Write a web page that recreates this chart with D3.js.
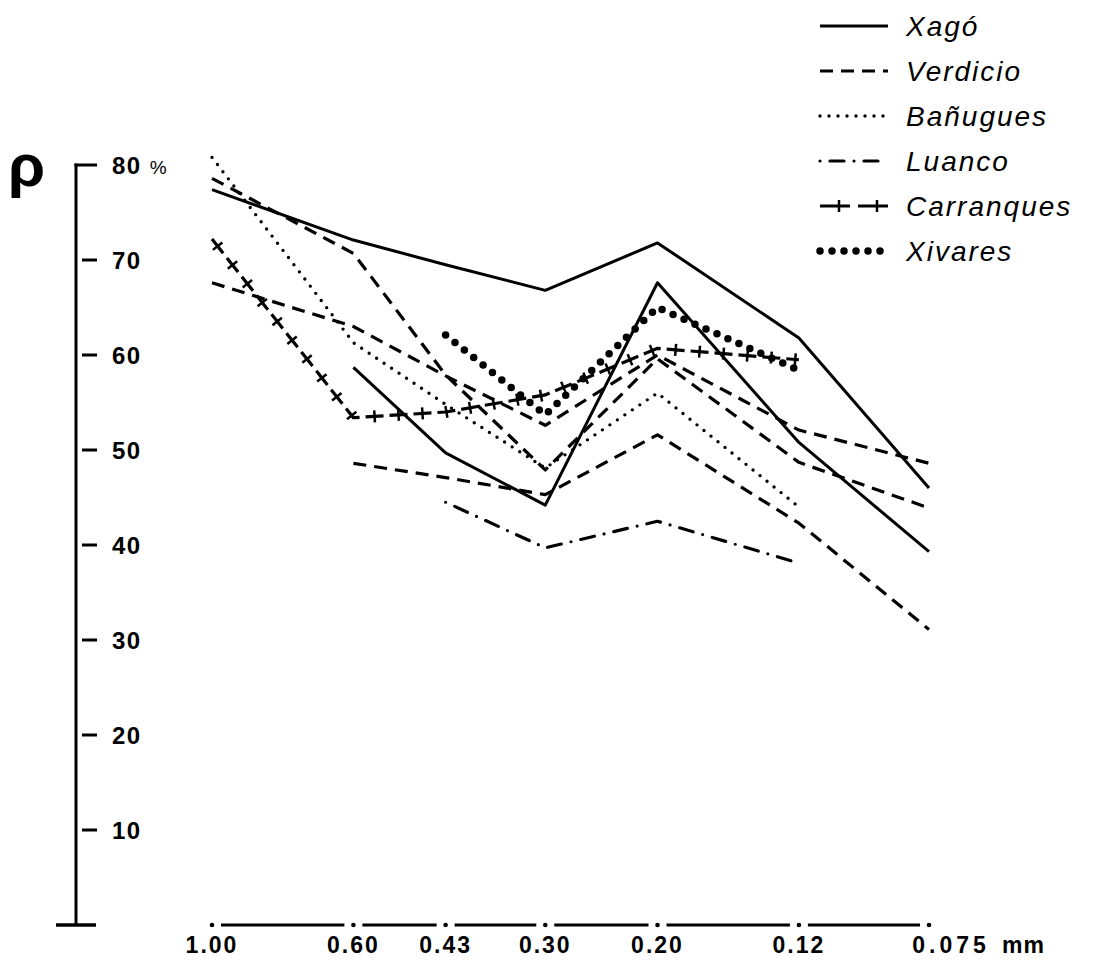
<!DOCTYPE html>
<html><head><meta charset="utf-8"><title>Porcentaje por tamaño de grano</title>
<script src="https://d3js.org/d3.v7.min.js"></script>
<style>
body { margin: 0; background: #fff; }
svg text { font-family: "Liberation Sans", Arial, sans-serif; fill: #000; }
</style>
</head>
<body>
<svg id="chart" width="1093" height="960"></svg>
<script>
// sieve sizes (mm) and their labels
const sizes = [1.00, 0.60, 0.43, 0.30, 0.20, 0.12, 0.075];
const sizeLabels = ["1.00", "0.60", "0.43", "0.30", "0.20", "0.12", "0.075"];
const yTicks = [10, 20, 30, 40, 50, 60, 70, 80];

const sites = ["Xagó", "Verdicio", "Bañugues", "Luanco", "Carranques", "Xivares"];

const xago1      = [77.4, 72.1, 69.5, 66.8, 71.8, 61.8, 46.0];
const xago2      = [null, 58.7, 49.7, 44.2, 67.6, 50.8, 39.3];
const verdicio1  = [78.6, 70.7, 57.9, 47.9, 59.6, 48.7, 43.9];
const verdicio2  = [67.6, 63.0, 57.8, 52.6, 60.0, 52.1, 48.6];
const verdicio3  = [null, 48.6, 47.1, 45.3, 51.6, 42.3, 31.1];
const banugues   = [80.8, 61.3, 54.8, 48.1, 56.0, 44.0, null];
const luanco     = [null, null, 44.5, 39.7, 42.5, 38.1, null];
const carranques = [72.2, 53.4, 54.0, 55.8, 60.7, 59.5, null];
const xivares    = [null, null, 62.1, 53.7, 65.0, 58.4, null];

const samples = [
  {site: "Xagó", values: xago1},
  {site: "Xagó", values: xago2},
  {site: "Verdicio", values: verdicio1},
  {site: "Verdicio", values: verdicio2},
  {site: "Verdicio", values: verdicio3},
  {site: "Bañugues", values: banugues},
  {site: "Luanco", values: luanco},
  {site: "Carranques", values: carranques},
  {site: "Xivares", values: xivares}
];

const styles = {
  "Xagó":       {dash: null, width: 3, cap: "butt"},
  "Verdicio":   {dash: "13 8", width: 3.2, cap: "butt"},
  "Bañugues":   {dash: "0 9", width: 3.4, cap: "round"},
  "Luanco":     {dash: "0 10 14 10", width: 3.2, cap: "round"},
  "Carranques": {dash: "18 6", width: 3.2, cap: "butt", tickStart: 9, tickStep: 24},
  "Xivares":    {dash: "0 12", width: 7.5, cap: "round"}
};
// the legend sample for Carranques uses two longer dashes
const legendOverride = {
  "Carranques": {dash: "30 8 30", width: 3.2, cap: "butt", tickStart: 19, tickStep: 38}
};

const svg = d3.select("#chart");

const x = d3.scaleLog().domain([1, 0.075]).range([212, 929]);
const y = d3.scaleLinear().domain([0, 80]).range([925, 165]);
const axisX = 76;

// little perpendicular bars along the Carranques line
function addCrossTicks(g, pathNode, st) {
  const len = pathNode.getTotalLength();
  for (let s = st.tickStart; s < len - 2; s += st.tickStep) {
    const p = pathNode.getPointAtLength(s);
    const q = pathNode.getPointAtLength(Math.min(s + 1, len));
    const dx = q.x - p.x, dy = q.y - p.y;
    const n = Math.hypot(dx, dy) || 1;
    const nx = -dy / n * 6, ny = dx / n * 6;
    g.append("line")
      .attr("x1", p.x - nx).attr("y1", p.y - ny)
      .attr("x2", p.x + nx).attr("y2", p.y + ny)
      .attr("stroke", "#000")
      .attr("stroke-width", 2.5);
  }
}

function styledPath(g, d, st) {
  const p = g.append("path")
    .attr("d", d)
    .attr("fill", "none")
    .attr("stroke", "#000")
    .attr("stroke-width", st.width)
    .attr("stroke-linecap", st.cap)
    .attr("stroke-linejoin", "round")
    .attr("stroke-dasharray", st.dash);
  if (st.tickStep) addCrossTicks(g, p.node(), st);
  return p;
}

// Y axis
const yAxis = svg.append("g");
yAxis.append("line")
  .attr("x1", axisX).attr("x2", axisX)
  .attr("y1", y(80) - 1.5).attr("y2", y(0))
  .attr("stroke", "#000").attr("stroke-width", 3);
yAxis.append("line")
  .attr("x1", axisX - 20).attr("x2", axisX + 20)
  .attr("y1", y(0)).attr("y2", y(0))
  .attr("stroke", "#000").attr("stroke-width", 3.5);
yTicks.forEach(t => {
  yAxis.append("line")
    .attr("x1", t === 80 ? axisX - 1.5 : axisX + 6).attr("x2", axisX + 21)
    .attr("y1", y(t)).attr("y2", y(t))
    .attr("stroke", "#000").attr("stroke-width", 3);
  const lab = yAxis.append("text")
    .attr("x", axisX + 36).attr("y", y(t)).attr("dy", "0.36em")
    .attr("font-size", 24).attr("font-weight", "bold")
    .attr("letter-spacing", 1.5)
    .text(t);
  if (t === 80) {
    lab.append("tspan").attr("dx", 8).attr("font-size", 19)
      .attr("font-weight", "normal").attr("letter-spacing", 0).text("%");
  }
});
svg.append("text")
  .attr("x", 8).attr("y", 186)
  .attr("font-family", "DejaVu Sans")
  .attr("font-size", 60).attr("font-weight", "bold")
  .text("ρ");

// X axis: dash-dot base line with dots on each sieve size
const xAxis = svg.append("g");
const xAxisY = 925;
const last = sizes.length - 1;
sizes.forEach((s, i) => {
  xAxis.append("circle").attr("cx", x(s)).attr("cy", xAxisY).attr("r", 2.3);
  if (i < last) {
    xAxis.append("line")
      .attr("x1", x(s) + 9).attr("x2", x(sizes[i + 1]) - 9)
      .attr("y1", xAxisY).attr("y2", xAxisY)
      .attr("stroke", "#000").attr("stroke-width", 3);
  }
  xAxis.append("text")
    .attr("x", x(s) + (i === last ? 22 : 0)).attr("y", 953)
    .attr("text-anchor", "middle")
    .attr("font-size", 23).attr("font-weight", "bold")
    .attr("letter-spacing", i === last ? 4 : 2)
    .text(sizeLabels[i]);
});
xAxis.append("text")
  .attr("x", x(0.075) + 73).attr("y", 953)
  .attr("font-size", 23).attr("font-weight", "bold")
  .attr("letter-spacing", 1)
  .text("mm");

// data lines
const line = d3.line()
  .defined(d => d.v != null)
  .x(d => x(d.s))
  .y(d => y(d.v));

const plot = svg.append("g");
samples.forEach(smp => {
  const pts = sizes.map((s, i) => ({s: s, v: smp.values[i]}));
  styledPath(plot.append("g"), line(pts), styles[smp.site]);
});

// legend
const legend = svg.append("g");
sites.forEach((name, i) => {
  const ly = 26 + i * 45;
  const g = legend.append("g");
  styledPath(g, d3.line()([[820, ly], [888, ly]]), legendOverride[name] || styles[name]);
  g.append("text")
    .attr("x", 906).attr("y", ly).attr("dy", "0.36em")
    .attr("font-size", 28).attr("font-style", "italic")
    .attr("letter-spacing", 2)
    .text(name);
});
</script>
</body></html>
